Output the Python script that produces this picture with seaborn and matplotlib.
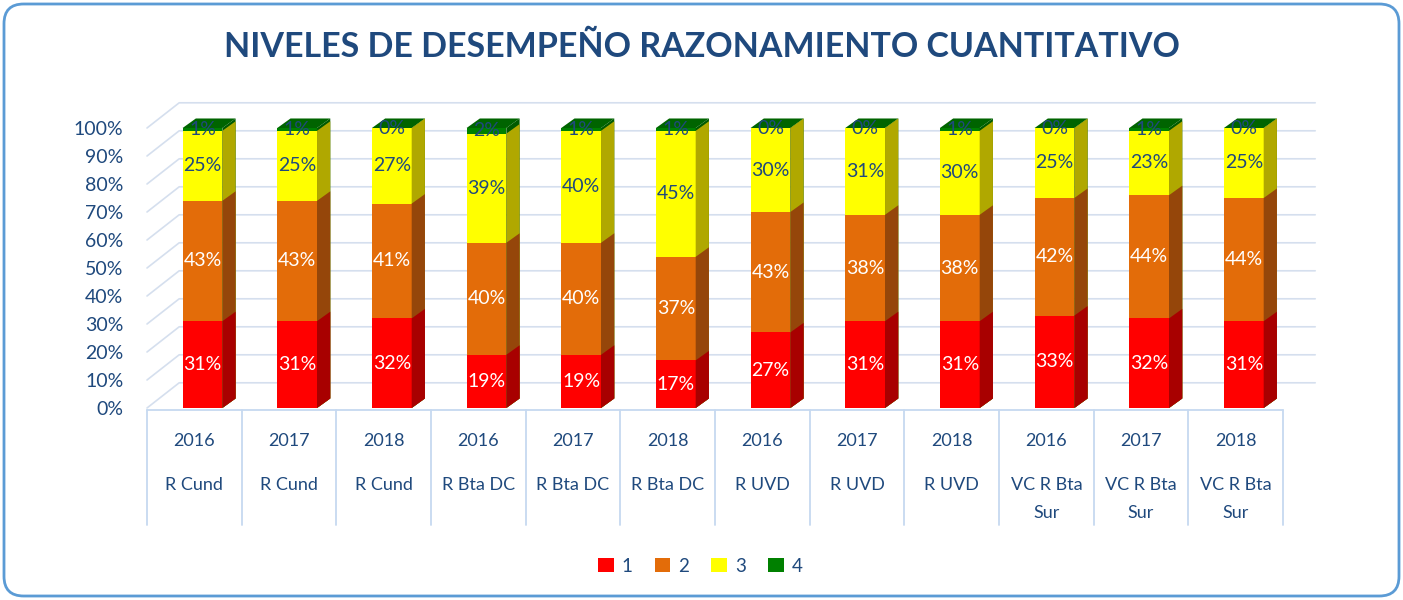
import numpy as np
import pandas as pd
import matplotlib
matplotlib.use("Agg")
import matplotlib.pyplot as plt
from matplotlib.patches import Polygon, Patch, FancyBboxPatch
from matplotlib.ticker import FuncFormatter
import seaborn as sns

# ---------------- data ----------------
years = ["2016", "2017", "2018", "2016", "2017", "2018",
         "2016", "2017", "2018", "2016", "2017", "2018"]
regions = ["R Cund", "R Cund", "R Cund", "R Bta DC", "R Bta DC", "R Bta DC",
           "R UVD", "R UVD", "R UVD", "VC R Bta\nSur", "VC R Bta\nSur", "VC R Bta\nSur"]
level_names = ["1", "2", "3", "4"]
nivel1 = [31, 31, 32, 19, 19, 17, 27, 31, 31, 33, 32, 31]
nivel2 = [43, 43, 41, 40, 40, 37, 43, 38, 38, 42, 44, 44]
nivel3 = [25, 25, 27, 39, 40, 45, 30, 31, 30, 25, 23, 25]
nivel4 = [1, 1, 0, 2, 1, 1, 0, 0, 1, 0, 1, 0]
yticks = [0, 10, 20, 30, 40, 50, 60, 70, 80, 90, 100]

# ---------------- style ----------------
front = ["#FF0000", "#E36C09", "#FFFF00", "#008000"]
side = ["#A80000", "#95460A", "#B0A800", "#005A00"]
top_col = "#006400"
label_col = ["white", "white", "#1F497D", "#1F497D"]
txt = "#1F497D"
FONT = "Lato"

sns.set_theme(style="white")
plt.rcParams["font.family"] = [FONT, "DejaVu Sans"]

W, H = 1403, 600
fig = plt.figure(figsize=(W / 100, H / 100), dpi=100)

keys = [f"{y} {r}" for y, r in zip(years, regions)]
levels = np.array([nivel1, nivel2, nivel3, nivel4], dtype=float)
cum = np.cumsum(levels, axis=0)

left_px, right_px = 147, 1283
ax = fig.add_axes([left_px / W, 1 - 408 / H, (right_px - left_px) / W, (408 - 128) / H])

bar_w = 0.42
dx = 0.14
dy = 3.4

# back wall grid (3D look)
wall_dx, wall_dy = 0.34, 9.0
x_lo, x_hi = -0.586, 11.414
for t in yticks:
    ax.plot([x_lo, x_lo + wall_dx, x_hi + wall_dx], [t, t + wall_dy, t + wall_dy],
            color="#D5DFEE", lw=1.2, zorder=0, clip_on=False)

# draw from top layer down (cumulative heights)
for k in range(3, -1, -1):
    df = pd.DataFrame({"key": keys, "val": cum[k]})
    n0 = len(ax.patches)
    zo = 3 + (3 - k) * 2
    sns.barplot(data=df, x="key", y="val", order=keys, color=front[k],
                saturation=1, width=bar_w, ax=ax, linewidth=0, zorder=zo)
    new = ax.patches[n0:]
    for p in new:
        x0, y0 = p.get_x(), p.get_y()
        w, h = p.get_width(), p.get_height()
        ax.add_patch(Polygon([(x0 + w, y0), (x0 + w + dx, y0 + dy),
                              (x0 + w + dx, y0 + h + dy), (x0 + w, y0 + h)],
                             closed=True, fc=side[k], ec="none", zorder=zo, clip_on=False))
        if k == 3:
            ax.add_patch(Polygon([(x0, y0 + h), (x0 + dx, y0 + h + dy),
                                  (x0 + w + dx, y0 + h + dy), (x0 + w, y0 + h)],
                                 closed=True, fc=top_col, ec="none", zorder=zo, clip_on=False))

# value labels
for k in range(4):
    for i in range(len(keys)):
        yc = cum[k][i] - levels[k][i] / 2
        ax.text(i, yc, f"{int(levels[k][i])}%", ha="center", va="center",
                fontsize=14, color=label_col[k], zorder=20)

ax.set_xlim(x_lo, x_hi)
ax.set_ylim(0, 100)
ax.set_yticks(yticks)
ax.yaxis.set_major_formatter(FuncFormatter(lambda v, p: f"{int(v)}%"))
ax.tick_params(axis="y", length=0, pad=17, labelsize=14, labelcolor=txt)
ax.set_xticks([])
ax.set_xlabel("")
ax.set_ylabel("")
for s in ax.spines.values():
    s.set_visible(False)
ax.grid(False)
ax.patch.set_alpha(0)

# category table below
tax = fig.add_axes([left_px / W, 1 - 525 / H, (right_px - left_px) / W, (525 - 410) / H])
tax.set_xlim(-0.5, 11.5)
tax.set_ylim(0, 1)
tax.axis("off")
line_c = "#C6D9F0"
for b in np.arange(len(keys) + 1) - 0.5:
    tax.plot([b, b], [0, 1], color=line_c, lw=1.3, clip_on=False)
tax.plot([-0.5, 11.5], [1, 1], color=line_c, lw=1.3, clip_on=False)
for i, (yr, rg) in enumerate(zip(years, regions)):
    tax.text(i, 0.73, yr, ha="center", va="center", fontsize=13, color=txt)
    for j, line in enumerate(rg.split("\n")):
        tax.text(i, 0.35 - j * 0.245, line, ha="center", va="center", fontsize=13, color=txt)

# title
fig.text(0.5, 1 - 47 / H, "NIVELES DE DESEMPEÑO RAZONAMIENTO CUANTITATIVO",
         ha="center", va="center", fontsize=24.5, fontweight="bold", color=txt)

# legend
handles = [Patch(fc=front[k], ec="none", label=level_names[k]) for k in range(4)]
fig.legend(handles=handles, loc="center", bbox_to_anchor=(700 / W, 1 - 566 / H), ncol=4,
           frameon=False, fontsize=13.5, labelcolor=txt, handlelength=0.85, handleheight=0.85,
           handletextpad=0.4, columnspacing=1.2)

# rounded border
fig.patches.append(FancyBboxPatch((4 / W, 4 / H), 1 - 8 / W, 1 - 8 / H,
                                  boxstyle="round,pad=0,rounding_size=0.014",
                                  mutation_aspect=W / H, transform=fig.transFigure,
                                  fc="none", ec="#5B9BD5", lw=2))

fig.savefig("out.png", dpi=100)
